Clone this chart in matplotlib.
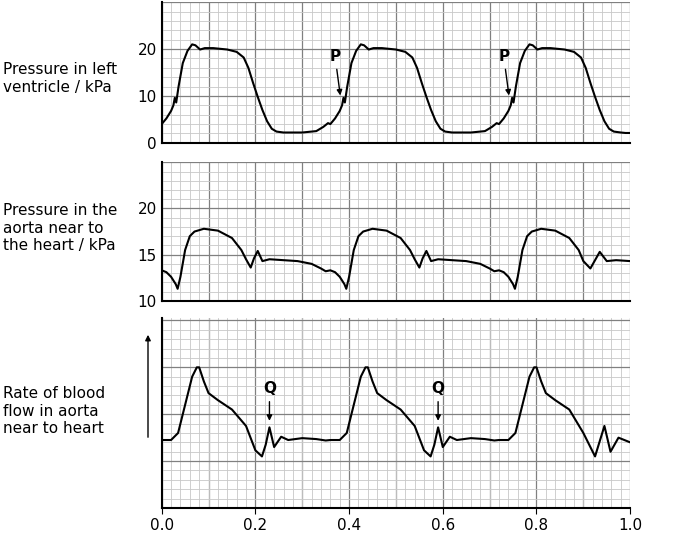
import matplotlib
matplotlib.use("Agg")
import matplotlib.pyplot as plt
import numpy as np

offsets = [0.0, 0.36, 0.72]

lv_t = [0.0, 0.01, 0.02, 0.025, 0.028, 0.031, 0.036, 0.045, 0.055, 0.065, 0.072, 0.082, 0.092, 0.11, 0.14, 0.16, 0.175, 0.185, 0.195, 0.205, 0.215, 0.225, 0.235, 0.245, 0.26, 0.3, 0.33, 0.345, 0.355]
lv_p = [4.0, 5.2, 6.8, 8.0, 9.6, 8.6, 12.0, 17.0, 19.6, 21.0, 20.8, 19.9, 20.2, 20.2, 19.9, 19.4, 18.2, 16.0, 12.8, 9.8, 7.0, 4.6, 3.0, 2.4, 2.2, 2.2, 2.5, 3.4, 4.2]

ao_t = [0.0, 0.01, 0.02, 0.03, 0.034, 0.04, 0.05, 0.06, 0.07, 0.09, 0.12, 0.15, 0.17, 0.18, 0.19, 0.197, 0.205, 0.215, 0.23, 0.26, 0.29, 0.32, 0.34, 0.35]
ao_p = [13.3, 13.1, 12.6, 11.8, 11.3, 12.6, 15.5, 17.0, 17.5, 17.8, 17.6, 16.8, 15.5, 14.5, 13.6, 14.6, 15.4, 14.3, 14.5, 14.4, 14.3, 14.0, 13.5, 13.2]

fl_t = [0.0, 0.02, 0.035, 0.05, 0.065, 0.075, 0.08, 0.09, 0.1, 0.12, 0.15, 0.18, 0.2, 0.214, 0.222, 0.23, 0.24, 0.255, 0.27, 0.3, 0.33, 0.35]
fl_v = [1.45, 1.45, 1.6, 2.2, 2.8, 3.0, 3.0, 2.7, 2.45, 2.3, 2.1, 1.75, 1.23, 1.1, 1.35, 1.72, 1.3, 1.52, 1.45, 1.49, 1.47, 1.44]

lv_end_t = [0.99, 1.0]; lv_end_p = [2.1, 2.1]
ao_end_t = [0.9, 0.915, 0.935, 0.95, 0.97, 1.0]; ao_end_p = [14.3, 13.5, 15.3, 14.3, 14.4, 14.3]
fl_end_t = [0.9, 0.925, 0.945, 0.958, 0.975, 1.0]; fl_end_v = [1.6, 1.1, 1.75, 1.2, 1.5, 1.4]

def build(t, v, et, ev, cut):
    xs, ys = [], []
    for o in offsets:
        for a, b in zip(t, v):
            if a + o <= cut:
                xs.append(a + o); ys.append(b)
    xs += et; ys += ev
    return np.array(xs), np.array(ys)

lx, ly = build(lv_t, lv_p, lv_end_t, lv_end_p, 0.985)
ax_, ay = build(ao_t, ao_p, ao_end_t, ao_end_p, 0.89)
fx, fy = build(fl_t, fl_v, fl_end_t, fl_end_v, 0.89)

fig = plt.figure(figsize=(6.91, 5.41), dpi=100)
L, W = 0.234, 0.678
a1 = fig.add_axes([L, 0.736, W, 0.26])
a2 = fig.add_axes([L, 0.444, W, 0.256])
a3 = fig.add_axes([L, 0.061, W, 0.351])

def style(ax, ylo, yhi, major, minor):
    ax.set_xlim(0, 1.0); ax.set_ylim(ylo, yhi)
    ax.set_xticks(np.arange(0, 1.001, 0.1))
    ax.set_xticks(np.arange(0, 1.001, 0.02), minor=True)
    ax.set_yticks(np.arange(ylo, yhi + 1e-9, major))
    ax.set_yticks(np.arange(ylo, yhi + 1e-9, minor), minor=True)
    ax.grid(which='minor', color='#c8c8c8', lw=0.6)
    ax.grid(which='major', color='#808080', lw=0.9)
    ax.set_axisbelow(True)
    for s in ['top', 'right']:
        ax.spines[s].set_visible(False)
    for s in ['left', 'bottom']:
        ax.spines[s].set_linewidth(1.5)
    ax.tick_params(which='both', length=0, labelsize=11)
    ax.tick_params(axis='x', labelbottom=False)

style(a1, 0, 30, 10, 2)
a1.set_yticks([0, 10, 20, 30]); a1.set_yticklabels(['0', '10', '20', ''])
style(a2, 10, 25, 5, 1)
a2.set_yticks([10, 15, 20, 25]); a2.set_yticklabels(['10', '15', '20', ''])
style(a3, 0, 4.05, 1, 0.2)
a3.set_yticklabels([])
a3.tick_params(axis='x', labelbottom=True, length=4, labelsize=11)
a3.set_xticks([0, 0.2, 0.4, 0.6, 0.8, 1.0])
a3.set_xticklabels(['0.0', '0.2', '0.4', '0.6', '0.8', '1.0'])
for x in np.arange(0.1, 1.0, 0.2):
    a3.axvline(x, color='#808080', lw=0.9, zorder=0.5)

a1.plot(lx, ly, color='black', lw=1.5)
a2.plot(ax_, ay, color='black', lw=1.5)
a3.plot(fx, fy, color='black', lw=1.5)

for x in [0.385, 0.745]:
    a1.annotate('P', xy=(x - 0.003, 9.5), xytext=(x - 0.015, 17.5), ha='center', fontsize=11, fontweight='bold',
                arrowprops=dict(arrowstyle='-|>', color='black', lw=1, mutation_scale=8))
for x in [0.23, 0.59]:
    a3.annotate('Q', xy=(x, 1.8), xytext=(x, 2.45), ha='center', fontsize=11, fontweight='bold',
                arrowprops=dict(arrowstyle='-|>', color='black', lw=1, mutation_scale=8))

fig.text(0.005, 0.855, 'Pressure in left\nventricle / kPa', fontsize=11, va='center')
fig.text(0.005, 0.578, 'Pressure in the\naorta near to\nthe heart / kPa', fontsize=11, va='center')
fig.text(0.005, 0.24, 'Rate of blood\nflow in aorta\nnear to heart', fontsize=11, va='center')
fig.add_artist(matplotlib.patches.FancyArrowPatch((148/691, 1-440/541), (148/691, 1-332/541),
               transform=fig.transFigure, arrowstyle='-|>', mutation_scale=8, color='black', lw=1))

fig.savefig('out.png', dpi=100)
